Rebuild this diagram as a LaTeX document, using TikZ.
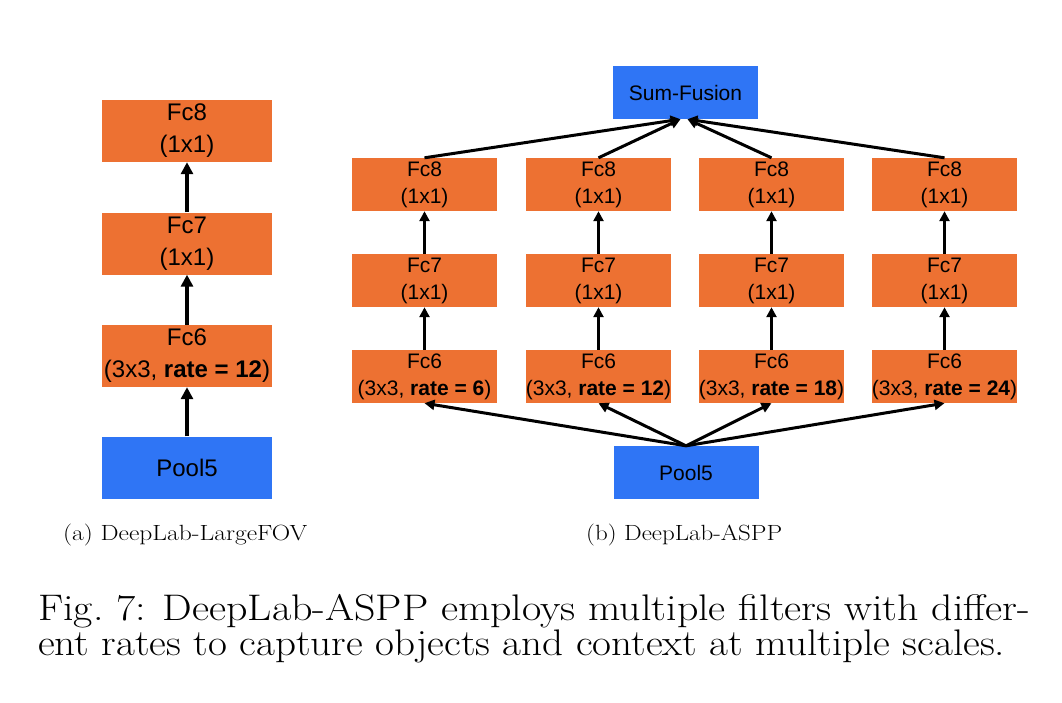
\documentclass[tikz,border=0pt]{standalone}
\usepackage{fontspec}
\usepackage{graphicx}
\newfontfamily\arial{Liberation Sans}
\usetikzlibrary{arrows.meta}
\definecolor{boxorange}{RGB}{237,113,50}
\definecolor{boxblue}{RGB}{47,117,245}
\newcommand{\lnl}{\\[4pt]}
\newcommand{\rnl}{\\[2pt]}
\begin{document}
\begin{tikzpicture}[x=1pt,y=-1pt,
  lbase/.style={fill=boxorange, minimum width=170pt, minimum height=62pt, inner sep=0pt, align=center, font=\arial\fontsize{24}{28}\selectfont},
  lbox/.style={lbase, execute at begin node={\rule{0pt}{26pt}}},
  lblue/.style={lbase, fill=boxblue},
  rbase/.style={fill=boxorange, minimum width=145pt, minimum height=53pt, inner sep=0pt, align=center, font=\arial\fontsize{21}{25}\selectfont},
  rbox/.style={rbase, execute at begin node={\rule{0pt}{24pt}}},
  rblue/.style={rbase, fill=boxblue},
  larrow/.style={-{Triangle[length=12pt,width=12pt]}, line width=4pt},
  rarrow/.style={-{Triangle[length=10pt,width=10pt]}, line width=3pt},
  subcap/.style={anchor=base west, inner sep=0pt, font=\fontsize{22}{26}\selectfont},
  figcap/.style={anchor=base west, inner sep=0pt, font=\fontsize{37}{42}\selectfont}]
\useasboundingbox (0,0) rectangle (1062,702);

% (a) DeepLab-LargeFOV
\node[lbox] (a8) at (187,131) {Fc8\lnl(1x1)};
\node[lbox] (a7) at (187,243.5) {Fc7\lnl(1x1)};
\node[lbox] (a6) at (187,356) {Fc6\lnl(3x3, {\bfseries rate = 12})};
\node[lblue] (ap) at (187,467.5) {Pool5};
\draw[larrow] (ap.north) -- (a6.south);
\draw[larrow] (a6.north) -- (a7.south);
\draw[larrow] (a7.north) -- (a8.south);

% (b) DeepLab-ASPP
\node[rblue] (sum) at (685.5,92.5) {Sum-Fusion};
\node[rblue] (bp) at (686,472.5) {Pool5};

\node[rbox] (b18) at (424.5,184.5) {Fc8\rnl(1x1)};
\node[rbox] (b17) at (424.5,280.5) {Fc7\rnl(1x1)};
\node[rbox] (b16) at (424.5,376.5) {Fc6\rnl(3x3, {\bfseries rate = 6})};

\node[rbox] (b28) at (598.5,184.5) {Fc8\rnl(1x1)};
\node[rbox] (b27) at (598.5,280.5) {Fc7\rnl(1x1)};
\node[rbox] (b26) at (598.5,376.5) {Fc6\rnl(3x3, {\bfseries rate = 12})};

\node[rbox] (b38) at (771.5,184.5) {Fc8\rnl(1x1)};
\node[rbox] (b37) at (771.5,280.5) {Fc7\rnl(1x1)};
\node[rbox] (b36) at (771.5,376.5) {Fc6\rnl(3x3, {\bfseries rate = 18})};

\node[rbox] (b48) at (944.5,184.5) {Fc8\rnl(1x1)};
\node[rbox] (b47) at (944.5,280.5) {Fc7\rnl(1x1)};
\node[rbox] (b46) at (944.5,376.5) {Fc6\rnl(3x3, {\bfseries rate = 24})};

\foreach \i in {1,2,3,4}{
  \draw[rarrow] (b\i6.north) -- (b\i7.south);
  \draw[rarrow] (b\i7.north) -- (b\i8.south);
  \draw[rarrow] (bp.north) -- (b\i6.south);
}
\draw[rarrow] (b18.north) -- ([xshift=-5pt]sum.south);
\draw[rarrow] (b28.north) -- ([xshift=-5pt]sum.south);
\draw[rarrow] (b38.north) -- ([xshift=2pt]sum.south);
\draw[rarrow] (b48.north) -- ([xshift=2pt]sum.south);

% captions
\node[subcap] (capa) at (63,540) {\resizebox{244pt}{\height}{(a) DeepLab-LargeFOV}};
\node[subcap] (capb) at (586,540) {\resizebox{196pt}{\height}{(b) DeepLab-ASPP}};
\node[figcap] (cap1) at (38,620) {\resizebox{992pt}{\height}{Fig.~7: DeepLab-ASPP employs multiple filters with differ-}};
\node[figcap] (cap2) at (38,655) {\resizebox{967pt}{\height}{ent rates to capture objects and context at multiple scales.}};
\end{tikzpicture}
\end{document}
